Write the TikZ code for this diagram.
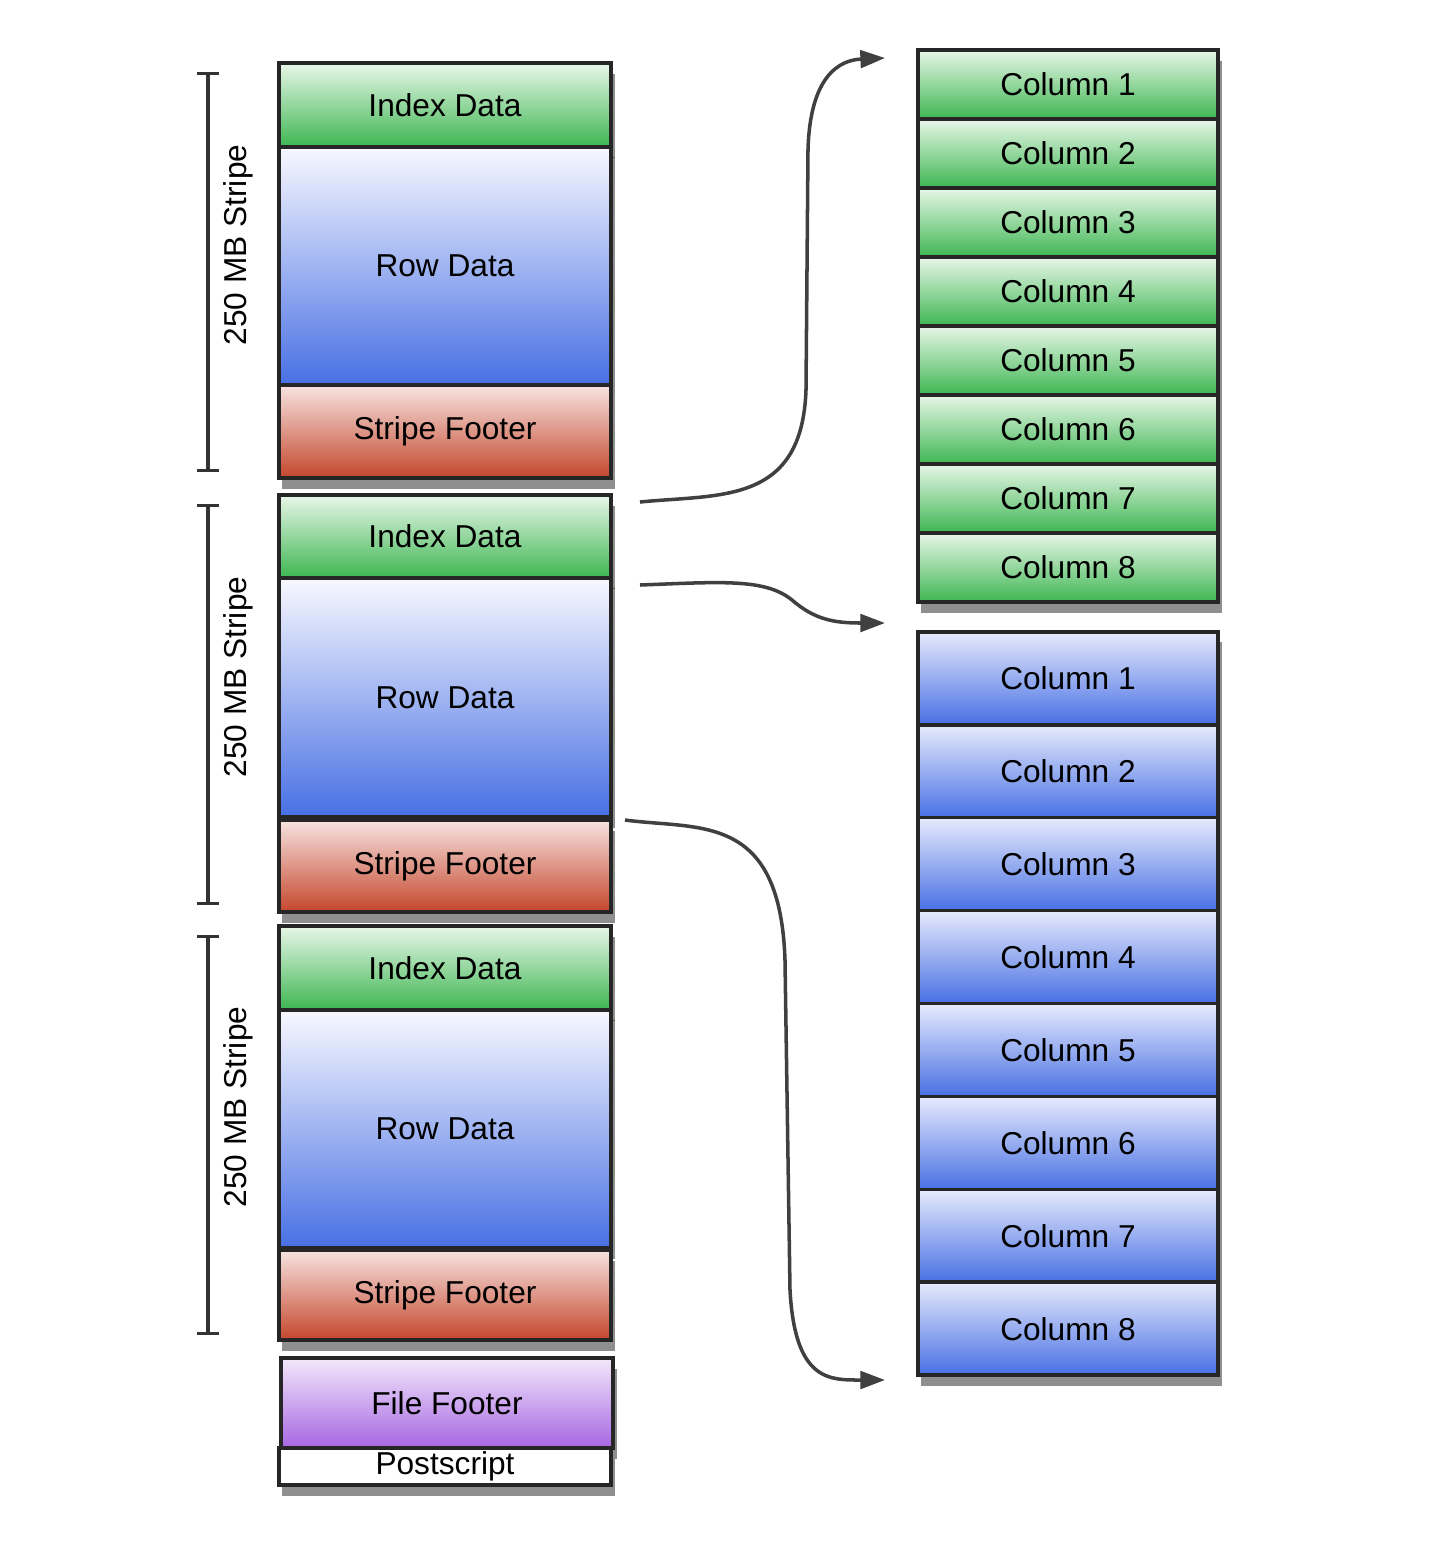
\documentclass[tikz,border=0pt]{standalone}
\usepackage{fontspec}
\setmainfont{Liberation Sans}
\usetikzlibrary{shadows}
\usetikzlibrary{arrows.meta}
\definecolor{grntop}{RGB}{232,247,232}
\definecolor{grnbot}{RGB}{62,182,82}
\definecolor{blutop}{RGB}{248,248,255}
\definecolor{blubot}{RGB}{72,112,228}
\definecolor{redtop}{RGB}{247,228,225}
\definecolor{redbot}{RGB}{196,70,44}
\definecolor{purtop}{RGB}{243,232,251}
\definecolor{purbot}{RGB}{166,102,226}
\tikzset{
    cell/.style = {rectangle, line width=1pt, draw=black!85, inner sep=0pt, minimum width=3.32cm,
                   font=\fontsize{9}{11}\selectfont,
                   drop shadow={shadow xshift=1pt,shadow yshift=-3pt,opacity=0.55,fill=black!80}},
    idxcell/.style = {cell, top color=grntop, bottom color=grnbot},
    rowcell/.style = {cell, top color=blutop, bottom color=blubot},
    sfcell/.style = {cell, top color=redtop, bottom color=redbot},
    ffcell/.style = {cell, top color=purtop, bottom color=purbot},
    pscell/.style = {cell, fill=white},
    colg/.style = {cell, minimum width=3.0cm, minimum height=0.69cm, top color=grntop, bottom color=grnbot},
    colb/.style = {cell, minimum width=3.0cm, minimum height=0.929cm, top color=blutop!90!blubot, bottom color=blubot},
    brk/.style = {{Bar[width=6pt]}-{Bar[width=6pt]}, line width=0.9pt, black!80},
    lbl/.style = {rotate=90, font=\fontsize{9}{11}\selectfont},
    edgen/.style = {-{Triangle[length=7pt,width=5pt]}, line width=1pt, black!75}
}
\begin{document}
\begin{tikzpicture}[x=0.01cm,y=-0.01cm]
  \useasboundingbox (0,0) rectangle (1442,1550);

  % stripe 1
  \node[idxcell, minimum height=0.84cm] (idx1) at (445,105) {Index Data};
  \node[rowcell, minimum height=2.38cm] (row1) at (445,266) {Row Data};
  \node[sfcell, minimum height=0.93cm] (sf1) at (445,431.5) {Stripe Footer};
  % stripe 2
  \node[idxcell, minimum height=0.83cm] (idx2) at (445,536.5) {Index Data};
  \node[rowcell, minimum height=2.39cm] (row2) at (445,697.5) {Row Data};
  \node[sfcell, minimum height=0.92cm] (sf2) at (445,866) {Stripe Footer};
  % stripe 3
  \node[idxcell, minimum height=0.84cm] (idx3) at (445,968) {Index Data};
  \node[rowcell, minimum height=2.38cm] (row3) at (445,1129) {Row Data};
  \node[sfcell, minimum height=0.90cm] (sf3) at (445,1295) {Stripe Footer};
  % footer
  \node[ffcell, minimum height=0.90cm] (ff) at (447,1403) {File Footer};
  \node[pscell, minimum height=0.37cm] (ps) at (445,1466.5) {Postscript};

  % stripe sizes
  \coordinate (br1t) at (208,72);   \coordinate (br1b) at (208,472);
  \coordinate (br2t) at (208,504);  \coordinate (br2b) at (208,905);
  \coordinate (br3t) at (208,935);  \coordinate (br3b) at (208,1335);
  \draw[brk] (br1t) -- (br1b);
  \draw[brk] (br2t) -- (br2b);
  \draw[brk] (br3t) -- (br3b);
  \node[lbl] (lbl1) at (238,245) {250 MB Stripe};
  \node[lbl] (lbl2) at (238,677) {250 MB Stripe};
  \node[lbl] (lbl3) at (238,1107) {250 MB Stripe};

  % index columns
  \node[colg] (gc1) at (1068,84.5) {Column 1};
  \node[colg] (gc2) at (1068,153.5) {Column 2};
  \node[colg] (gc3) at (1068,222.5) {Column 3};
  \node[colg] (gc4) at (1068,291.5) {Column 4};
  \node[colg] (gc5) at (1068,360.5) {Column 5};
  \node[colg] (gc6) at (1068,429.5) {Column 6};
  \node[colg] (gc7) at (1068,498.5) {Column 7};
  \node[colg] (gc8) at (1068,567.5) {Column 8};

  % row columns
  \node[colb] (bc1) at (1068,678.4) {Column 1};
  \node[colb] (bc2) at (1068,771.3) {Column 2};
  \node[colb] (bc3) at (1068,864.2) {Column 3};
  \node[colb] (bc4) at (1068,957.1) {Column 4};
  \node[colb] (bc5) at (1068,1050) {Column 5};
  \node[colb] (bc6) at (1068,1142.9) {Column 6};
  \node[colb] (bc7) at (1068,1235.8) {Column 7};
  \node[colb] (bc8) at (1068,1328.7) {Column 8};

  % links
  \coordinate (a1s) at (640,502);  \coordinate (a1e) at (885,58);
  \coordinate (a2s) at (640,585);  \coordinate (a2e) at (885,623);
  \coordinate (a3s) at (625,820);  \coordinate (a3e) at (885,1380);
  \draw[edgen] (a1s) .. controls (720,494) and (802,505) .. (806,390)
               -- (808,150) .. controls (810,75) and (840,60) .. (a1e);
  \draw[edgen] (a2s) .. controls (720,582) and (765,578) .. (792,600)
               .. controls (815,620) and (835,623) .. (a2e);
  \draw[edgen] (a3s) .. controls (700,830) and (780,812) .. (785,960)
               -- (790,1290) .. controls (795,1382) and (830,1380) .. (a3e);
\end{tikzpicture}
\end{document}
